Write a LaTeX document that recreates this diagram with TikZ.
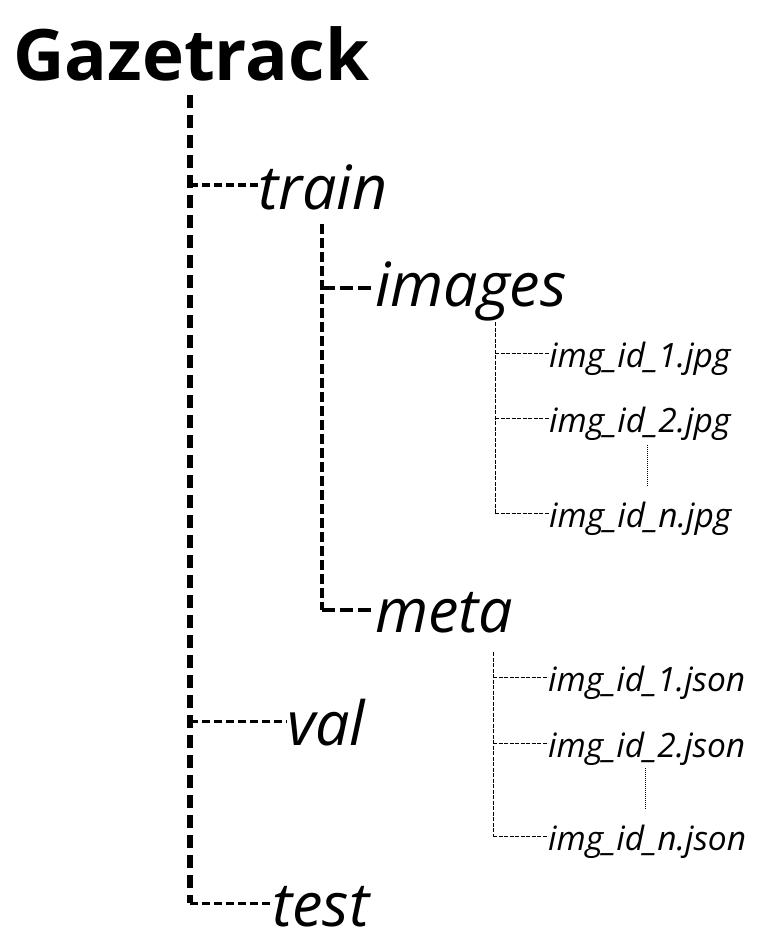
\documentclass[tikz,border=0pt]{standalone}
\usepackage{fontspec}
\setmainfont{Open Sans}
\begin{document}
\begin{tikzpicture}[x=1pt,y=-1pt,
  lvlA/.style={line width=5.5pt,dash pattern=on 13pt off 7pt},
  lvlAh/.style={line width=3pt,dash pattern=on 8pt off 4pt},
  lvlB/.style={line width=3.2pt,dash pattern=on 10pt off 4pt},
  lvlBh/.style={line width=3.5pt,dash pattern=on 13pt off 5pt},
  lvlC/.style={line width=1pt,dash pattern=on 4pt off 1.5pt},
  dots/.style={line width=1pt,dash pattern=on 1pt off 1pt},
  big/.style={anchor=base west,inner sep=0pt,font=\fontsize{61}{66}\selectfont\itshape},
  small/.style={anchor=base west,inner sep=0pt,font=\fontsize{33.5}{36}\selectfont\itshape},
]
\useasboundingbox (0,0) rectangle (768,944);
\node[anchor=base west,inner sep=0pt,font=\fontsize{71}{76}\selectfont\bfseries] (root) at (13,81) {Gazetrack};
\node[big] (train) at (258,209) {train};
\node[big] (images) at (375,306) {images};
\node[big] (meta) at (375,632) {meta};
\node[big] (val) at (287,745) {val};
\node[big] (test) at (272,926) {test};
\node[small] (j1) at (549,367) {img\_id\_1.jpg};
\node[small] (j2) at (549,432) {img\_id\_2.jpg};
\node[small] (jn) at (549,527) {img\_id\_n.jpg};
\node[small] (s1) at (548,691) {img\_id\_1.json};
\node[small] (s2) at (548,757) {img\_id\_2.json};
\node[small] (sn) at (548,850) {img\_id\_n.json};
% level A
\coordinate (a0) at (190,95);
\coordinate (aT) at (190,185);
\coordinate (aV) at (190,721);
\coordinate (aE) at (190,903);
\draw[lvlA] (a0) -- (aE);
\draw[lvlAh] (aT) -- (aT -| train.west);
\draw[lvlAh] (aV) -- (aV -| val.west);
\draw[lvlAh] (aE) -- (aE -| test.west);
% level B
\coordinate (b0) at (322,224);
\coordinate (bI) at (322,288);
\coordinate (bM) at (322,610);
\draw[lvlB] (b0) -- (bM);
\draw[lvlBh] (bI) -- (bI -| images.west);
\draw[lvlBh] (bM) -- (bM -| meta.west);
% level C (images)
\coordinate (c0) at (495,322);
\coordinate (c1) at (495,353);
\coordinate (c2) at (495,418);
\coordinate (cn) at (495,513);
\draw[lvlC] (c0) -- (cn);
\draw[lvlC] (c1) -- (c1 -| j1.west);
\draw[lvlC] (c2) -- (c2 -| j2.west);
\draw[lvlC] (cn) -- (cn -| jn.west);
\coordinate (cd0) at (647,445);
\coordinate (cd1) at (647,486);
\draw[dots] (cd0) -- (cd1);
% level C (meta)
\coordinate (d0) at (493,652);
\coordinate (d1) at (493,677);
\coordinate (d2) at (493,743);
\coordinate (dn) at (493,836);
\draw[lvlC] (d0) -- (dn);
\draw[lvlC] (d1) -- (d1 -| s1.west);
\draw[lvlC] (d2) -- (d2 -| s2.west);
\draw[lvlC] (dn) -- (dn -| sn.west);
\coordinate (dd0) at (645,768);
\coordinate (dd1) at (645,810);
\draw[dots] (dd0) -- (dd1);
\end{tikzpicture}
\end{document}
